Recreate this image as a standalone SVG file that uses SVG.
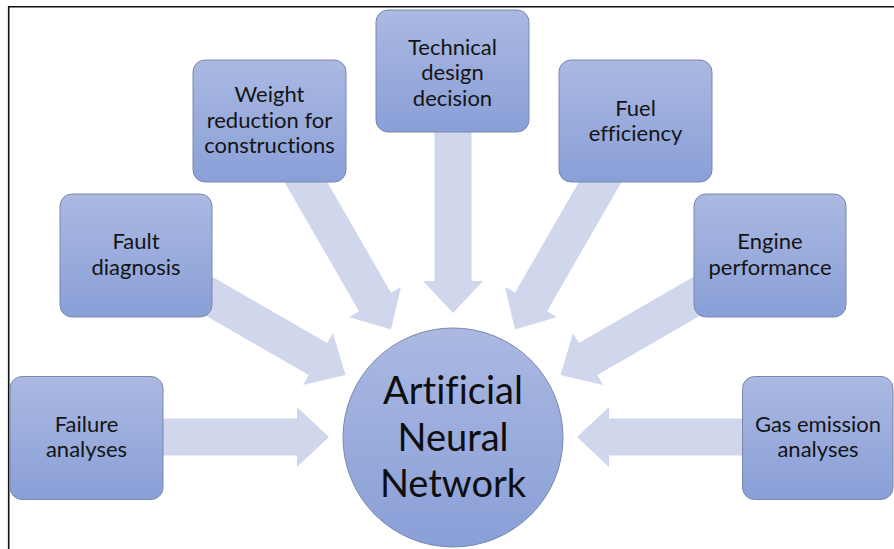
<svg xmlns="http://www.w3.org/2000/svg" width="894" height="549" viewBox="0 0 894 549">
<defs>
<linearGradient id="boxGrad" x1="0" y1="0" x2="0" y2="1">
<stop offset="0" stop-color="#abb9e2"/>
<stop offset="1" stop-color="#899fd7"/>
</linearGradient>
<path id="arrowShape" d="M-240,-18.5 H-32 V-30 L0,0 L-32,30 V18.5 H-240 Z"/>
</defs>
<style>
.box{fill:url(#boxGrad);stroke:#7a88ad;stroke-width:1}
.hub{fill:url(#boxGrad);stroke:#7a88ad;stroke-width:1}
.arrow{fill:#d0d7ec}
.lbl{font-family:Lato,"Open Sans","Liberation Sans",sans-serif;font-size:22px;fill:#141414;text-anchor:middle;font-variant-ligatures:none}
.hubl{font-family:Lato,"Open Sans","Liberation Sans",sans-serif;font-size:38px;fill:#0e0e0e;text-anchor:middle;font-variant-ligatures:none}
.frame{fill:none;stroke:#111;stroke-width:1.6}
</style>
<rect x="0" y="0" width="894" height="549" fill="#ffffff"/>
<path class="frame" d="M8.7,549 V6.7 H894"/>
<g id="connectors">
<use href="#arrowShape" class="arrow" transform="translate(329,437)"/>
<use href="#arrowShape" class="arrow" transform="translate(345.6,375) rotate(30)"/>
<use href="#arrowShape" class="arrow" transform="translate(391,329.6) rotate(60)"/>
<use href="#arrowShape" class="arrow" transform="translate(453,313) rotate(90)"/>
<use href="#arrowShape" class="arrow" transform="translate(515,329.6) rotate(120)"/>
<use href="#arrowShape" class="arrow" transform="translate(560.4,375) rotate(150)"/>
<use href="#arrowShape" class="arrow" transform="translate(577,437) rotate(180)"/>
</g>
<g id="failure">
<rect class="box" x="10" y="376.5" width="153" height="123" rx="12"/>
<text class="lbl" x="86.5" y="432">Failure</text>
<text class="lbl" x="86.5" y="457">analyses</text>
</g>
<g id="fault">
<rect class="box" x="60" y="194" width="152" height="123" rx="12"/>
<text class="lbl" x="136" y="249">Fault</text>
<text class="lbl" x="136" y="274.5">diagnosis</text>
</g>
<g id="weight">
<rect class="box" x="193" y="60" width="153" height="122" rx="12"/>
<text class="lbl" x="269.5" y="102">Weight</text>
<text class="lbl" x="269.5" y="127.5">reduction for</text>
<text class="lbl" x="269.5" y="153">constructions</text>
</g>
<g id="technical">
<rect class="box" x="376" y="10" width="153" height="122" rx="12"/>
<text class="lbl" x="452.5" y="55">Technical</text>
<text class="lbl" x="452.5" y="80">design</text>
<text class="lbl" x="452.5" y="105.5">decision</text>
</g>
<g id="fuel">
<rect class="box" x="559" y="60" width="153" height="122" rx="12"/>
<text class="lbl" x="635.5" y="115.5">Fuel</text>
<text class="lbl" x="635.5" y="141">efficiency</text>
</g>
<g id="engine">
<rect class="box" x="694" y="194" width="152" height="123" rx="12"/>
<text class="lbl" x="770" y="249">Engine</text>
<text class="lbl" x="770" y="274.5">performance</text>
</g>
<g id="gas">
<rect class="box" x="742.5" y="376.5" width="150.5" height="123" rx="12"/>
<text class="lbl" x="818" y="432">Gas emission</text>
<text class="lbl" x="818" y="457">analyses</text>
</g>
<g id="ann">
<ellipse class="hub" cx="453" cy="437.5" rx="110" ry="109.5"/>
<text class="hubl" x="453" y="404">Artificial</text>
<text class="hubl" x="453" y="450.5">Neural</text>
<text class="hubl" x="453" y="497">Network</text>
</g>
</svg>
